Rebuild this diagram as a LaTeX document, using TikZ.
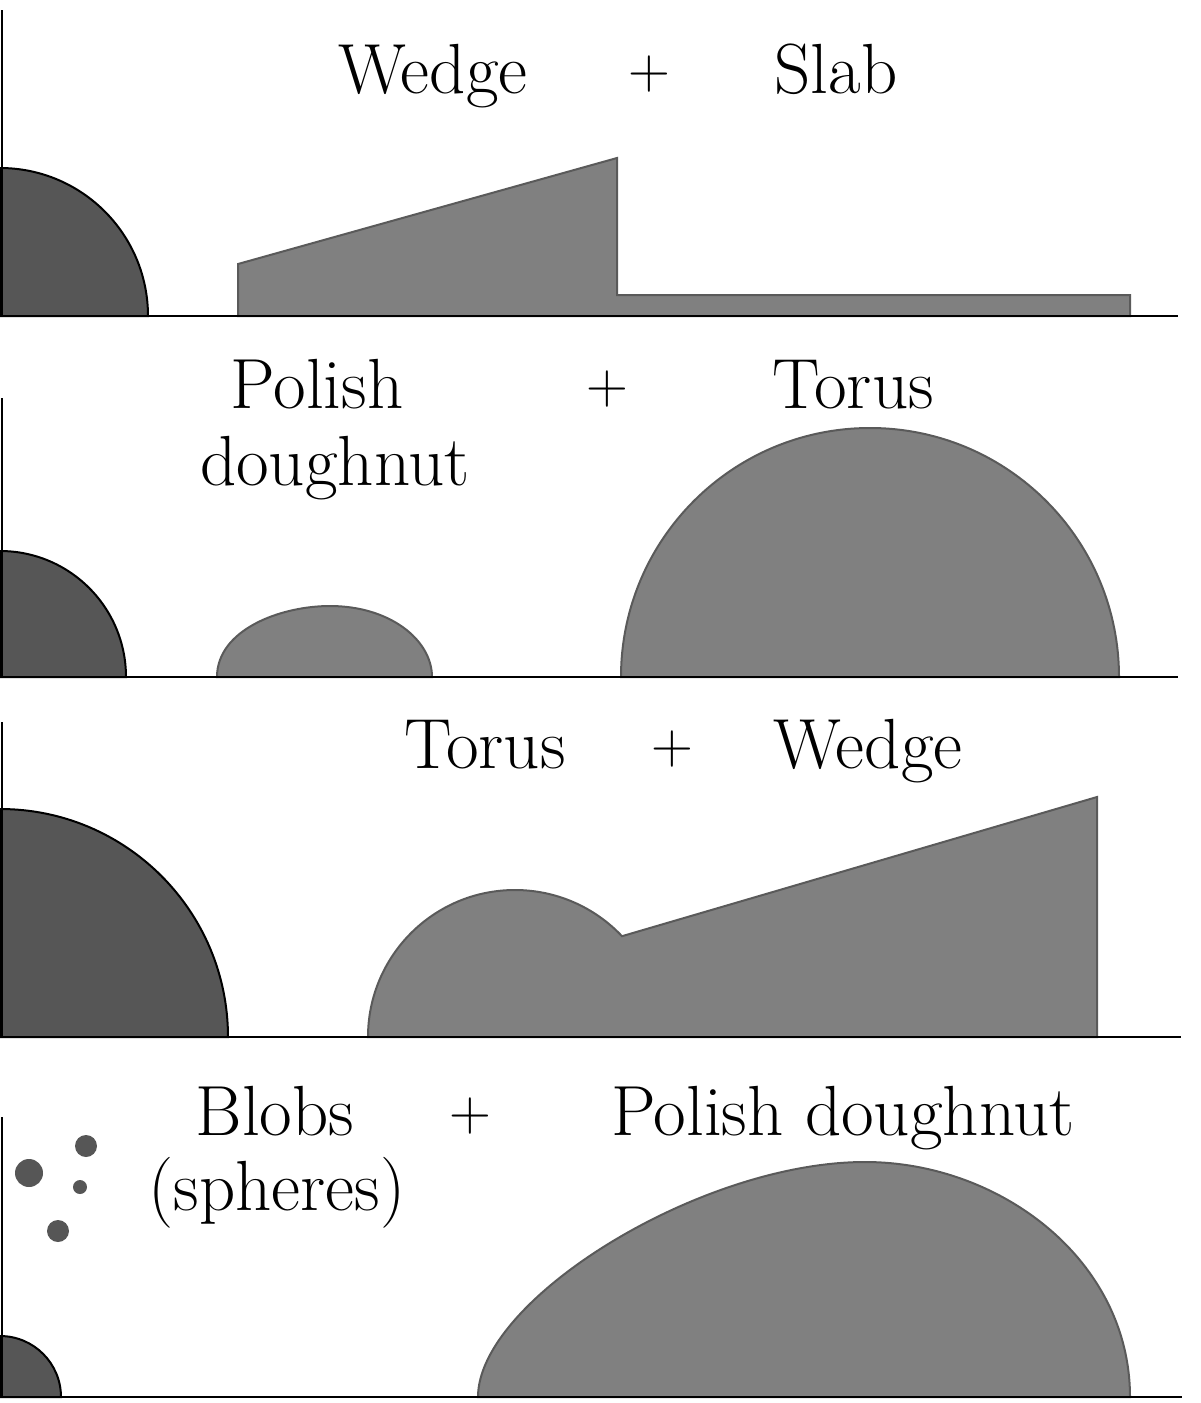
\documentclass[tikz,border=0pt]{standalone}
\definecolor{darkfill}{HTML}{565656}
\definecolor{grayfill}{HTML}{808080}
\definecolor{grayedge}{HTML}{5A5A5A}
\tikzset{
  axisline/.style={black, line width=2pt},
  darkshape/.style={fill=darkfill, draw=black, line width=2pt},
  grayshape/.style={fill=grayfill, draw=grayedge, line width=2pt, line join=miter},
  blob/.style={fill=darkfill, draw=none},
  lbl/.style={anchor=base, inner sep=0pt, font=\fontsize{71}{84}\selectfont},
  plus/.style={anchor=base, inner sep=0pt, font=\fontsize{58}{70}\selectfont}
}
\begin{document}
\begin{tikzpicture}[x=1pt, y=-1pt]
\useasboundingbox (0,0) rectangle (1200,1403);
% ---------- Panel 1: Wedge + Slab ----------
\draw[darkshape] (0,316) -- (0,168) arc[start angle=270, end angle=360, radius=148] -- cycle;
\draw[grayshape] (238,316) -- (238,264) -- (617,158) -- (617,295) -- (1130,295) -- (1130,316) -- cycle;
\draw[axisline] (2,10) -- (2,316);
\draw[axisline] (0,316) -- (1178,316);
\node[lbl] (w1) at (433,93) {Wedge};
\node[plus] (p1) at (649,88) {+};
\node[lbl] (s1) at (836,93) {Slab};
% ---------- Panel 2: Polish doughnut + Torus ----------
\draw[darkshape] (0,677) -- (0,551) arc[start angle=270, end angle=360, radius=126] -- cycle;
\draw[grayshape] (217,677) .. controls (217,630) and (280,606) .. (330,606)
   .. controls (390,606) and (432,640) .. (432,677) -- cycle;
\draw[grayshape] (621,677) arc[start angle=180, end angle=360, radius=249] -- cycle;
\draw[axisline] (2,398) -- (2,677);
\draw[axisline] (0,677) -- (1178,677);
\node[lbl] (pd2a) at (317,408) {Polish};
\node[lbl] (pd2b) at (335,485) {doughnut};
\node[plus] (p2) at (607,403) {+};
\node[lbl] (t2) at (853,408) {Torus};
% ---------- Panel 3: Torus + Wedge ----------
\draw[darkshape] (0,1037) -- (0,809) arc[start angle=270, end angle=360, radius=228] -- cycle;
\draw[grayshape] (368,1037) arc[start angle=180, end angle=316.7, radius=147] -- (1097,797) -- (1097,1037) -- cycle;
\draw[axisline] (2,722) -- (2,1037);
\draw[axisline] (0,1037) -- (1181,1037);
\node[lbl] (t3) at (485,768) {Torus};
\node[plus] (p3) at (672,763) {+};
\node[lbl] (w3) at (868,768) {Wedge};
% ---------- Panel 4: Blobs + Polish doughnut ----------
\draw[darkshape] (0,1397) -- (0,1336) arc[start angle=270, end angle=360, radius=61] -- cycle;
\fill[blob] (29,1173) circle[radius=14];
\fill[blob] (86,1146) circle[radius=11];
\fill[blob] (80,1187) circle[radius=7];
\fill[blob] (58,1231) circle[radius=11];
\draw[grayshape] (478,1397) .. controls (478,1300) and (700,1162) .. (865,1162)
   .. controls (1000,1162) and (1130,1260) .. (1130,1397) -- cycle;
\draw[axisline] (2,1117) -- (2,1397);
\draw[axisline] (0,1397) -- (1182,1397);
\node[lbl] (b4a) at (275,1135) {Blobs};
\node[lbl] (b4b) at (277,1210) {(spheres)};
\node[plus] (p4) at (470,1130) {+};
\node[lbl] (pd4) at (843,1135) {Polish doughnut};
\end{tikzpicture}
\end{document}
